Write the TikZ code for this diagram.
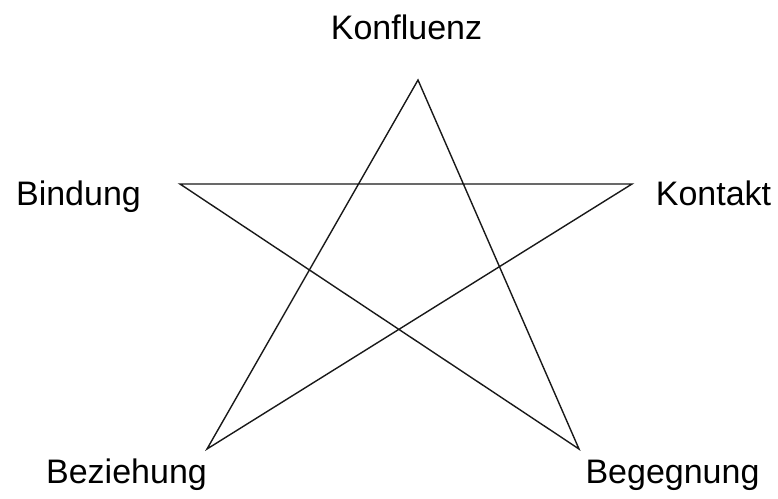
\documentclass[tikz,border=0pt]{standalone}
\usepackage{fontspec}
\setmainfont{Liberation Sans}
\usepackage{tikz}

\begin{document}
\begin{tikzpicture}[x=1pt, y=-1pt,
    label/.style={inner sep=0pt, anchor=base, font=\fontsize{34}{40}\selectfont},
    edge/.style={line width=1.4pt, black!90}]
\useasboundingbox (0,0) rectangle (778,498);
% Star points
\coordinate (top) at (418,80);
\coordinate (left) at (180,184);
\coordinate (right) at (632,184);
\coordinate (botleft) at (207,449);
\coordinate (botright) at (579,449);
% Labels
\node[label] (konfluenz) at (406.5,39) {Konfluenz};
\node[label] (bindung) at (78.5,205) {Bindung};
\node[label] (kontakt) at (713.5,205) {Kontakt};
\node[label] (beziehung) at (126.5,483) {Beziehung};
\node[label] (begegnung) at (672.5,483) {Begegnung};
% Draw the star
\draw[edge, line join=miter] (top) -- (botright) -- (left) -- (right) -- (botleft) -- cycle;
\end{tikzpicture}
\end{document}
